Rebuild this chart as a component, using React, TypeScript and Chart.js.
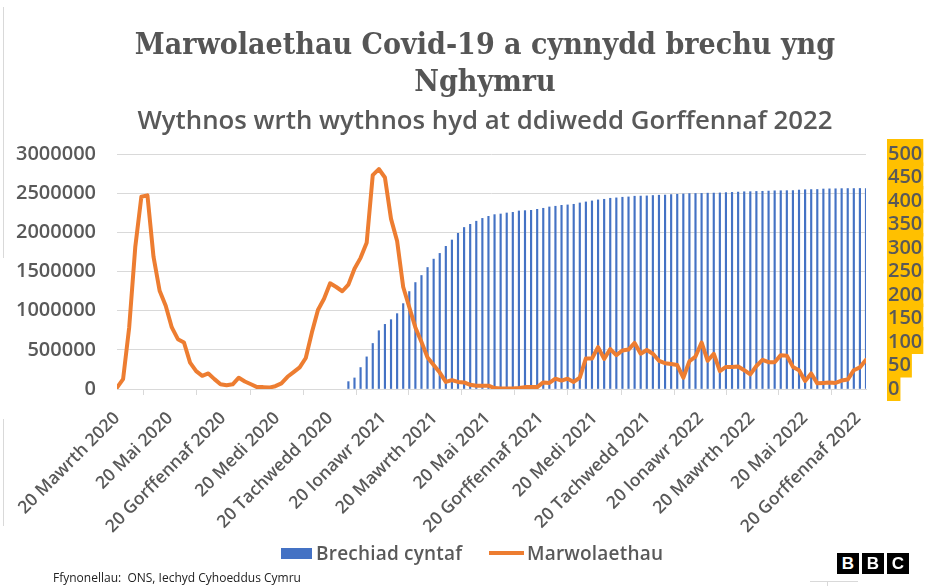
import React, { useEffect, useRef } from "react";
import { Chart, registerables } from "chart.js";

Chart.register(...registerables);

// ---------- DATA ----------
const firstWeekEnding = "2020-03-20";

// Weekly COVID-19 deaths (Wales), week ending 20 Mar 2020 → 29 Jul 2022
const deaths: number[] = [
  3, 21, 131, 302, 409, 412, 281, 209, 177, 131, 106, 99, 56, 38, 28, 33, 21, 10, 8, 10,
  24, 16, 10, 4, 4, 3, 6, 12, 26, 36, 46, 66, 120, 168, 192, 225, 217, 208, 222, 256,
  279, 311, 455, 468, 450, 362, 315, 217, 174, 131, 100, 67, 51, 35, 15, 19, 15, 14, 9, 7,
  7, 7, 2, 1, 1, 1, 2, 4, 4, 4, 14, 13, 22, 18, 22, 15, 24, 65, 65, 89,
  64, 85, 72, 82, 84, 98, 75, 83, 75, 60, 55, 53, 51, 24, 59, 69, 99, 60, 75, 38,
  47, 47, 48, 40, 31, 49, 62, 57, 57, 72, 71, 47, 40, 17, 33, 12, 13, 14, 13, 18,
  20, 40, 46, 62,
];

// Cumulative first doses, weekly from week ending 11 Dec 2020
const firstDoseStart = "2020-12-11";
const firstDoses: number[] = [
  94000, 141000, 274000, 410000, 581000, 744000, 825000, 885000, 962000, 1090000,
  1244000, 1359000, 1449000, 1551000, 1658000, 1731000, 1821000, 1902000, 1987000, 2062000,
  2102000, 2142000, 2178000, 2204000, 2226000, 2234000, 2247000, 2255000, 2273000, 2277000,
  2281000, 2294000, 2307000, 2324000, 2333000, 2345000, 2350000, 2358000, 2375000, 2388000,
  2401000, 2414000, 2422000, 2435000, 2440000, 2448000, 2452000, 2461000, 2463000, 2465000,
  2470000, 2474000, 2476000, 2482000, 2486000, 2490000, 2495000, 2496000, 2497000, 2500000,
  2501000, 2503000, 2507000, 2510000, 2514000, 2518000, 2519000, 2522000, 2524000, 2527000,
  2530000, 2531000, 2532000, 2533000, 2540000, 2544000, 2546000, 2547000, 2553000, 2555000,
  2556000, 2558000, 2559000, 2559000, 2560000, 2560000,
];

const tickDates: string[] = [
  "2020-03-20", "2020-05-20", "2020-07-20", "2020-09-20", "2020-11-20",
  "2021-01-20", "2021-03-20", "2021-05-20", "2021-07-20", "2021-09-20",
  "2021-11-20", "2022-01-20", "2022-03-20", "2022-05-20", "2022-07-20",
];
const tickLabels: string[] = [
  "20 Mawrth 2020", "20 Mai 2020", "20 Gorffennaf 2020", "20 Medi 2020", "20 Tachwedd 2020",
  "20 Ionawr 2021", "20 Mawrth 2021", "20 Mai 2021", "20 Gorffennaf 2021", "20 Medi 2021",
  "20 Tachwedd 2021", "20 Ionawr 2022", "20 Mawrth 2022", "20 Mai 2022", "20 Gorffennaf 2022",
];

const leftMax = 3000000;
const leftStep = 500000;
const rightMax = 500;
const rightStep = 50;

const seriesNames = { doses: "Brechiad cyntaf", deaths: "Marwolaethau" };
const titleLines = ["Marwolaethau Covid-19 a cynnydd brechu yng", "Nghymru"];
const subtitle = "Wythnos wrth wythnos hyd at ddiwedd Gorffennaf 2022";
const source = "Ffynonellau:  ONS, Iechyd Cyhoeddus Cymru";

// ---------- helpers ----------
const DAY = 86400000;
const weekIndex = (d: string) => (Date.parse(d) - Date.parse(firstWeekEnding)) / (7 * DAY);
const weekEnding: string[] = deaths.map((_, i) =>
  new Date(Date.parse(firstWeekEnding) + i * 7 * DAY).toISOString().slice(0, 10)
);
const doseOffset = weekIndex(firstDoseStart);
const tickValues = tickDates.map(weekIndex);

const W = 934;
const H = 586;
const GRID = "#d9d9d9";
const TXT = "#595959";
const AXIS_FONT = { family: "'Open Sans'", size: 20, weight: 600 as any };

export default function App() {
  const ref = useRef<HTMLCanvasElement | null>(null);

  useEffect(() => {
    document.body.style.margin = "0";
    const canvas = ref.current;
    if (!canvas) return;
    const chart = new Chart(canvas, {
      type: "bar",
      data: {
        labels: weekEnding,
        datasets: [
          {
            type: "line",
            label: seriesNames.deaths,
            data: deaths.map((v, i) => ({ x: i, y: v })),
            yAxisID: "y2",
            borderColor: "#ED7D31",
            backgroundColor: "#ED7D31",
            borderWidth: 4,
            pointRadius: 0,
            tension: 0,
            borderJoinStyle: "round",
            borderCapStyle: "round",
            order: 0,
          } as any,
          {
            type: "bar",
            label: seriesNames.doses,
            data: firstDoses.map((v, i) => ({ x: i + doseOffset, y: v })),
            yAxisID: "y",
            backgroundColor: "#4472C4",
            barThickness: 1.5,
            order: 1,
          } as any,
        ],
      },
      options: {
        responsive: false,
        animation: false,
        layout: { padding: { top: 154, left: 0, right: 0, bottom: 0 } },
        plugins: {
          legend: { display: false },
          title: { display: false },
          tooltip: { enabled: false },
        },
        scales: {
          x: {
            type: "linear",
            min: 0,
            max: deaths.length - 1,
            offset: false,
            afterBuildTicks: (s: any) => {
              s.ticks = tickValues.map((v) => ({ value: v }));
            },
            afterFit: (s: any) => {
              s.height = H - 389;
            },
            ticks: {
              autoSkip: false,
              minRotation: 45,
              maxRotation: 45,
              padding: 13,
              color: TXT,
              font: { family: "'Open Sans'", size: 17.5, weight: 600 },
              callback: (_v: any, i: number) => tickLabels[i],
            },
            grid: { drawOnChartArea: false, tickLength: 6, color: GRID },
            border: { color: GRID, width: 1 },
          },
          y: {
            position: "left",
            min: 0,
            max: leftMax,
            afterFit: (s: any) => {
              s.width = 117;
            },
            ticks: {
              autoSkip: false,
              stepSize: leftStep,
              padding: 21,
              color: TXT,
              font: AXIS_FONT,
              callback: (v: any) => String(v),
            },
            grid: { color: GRID, drawTicks: false },
            border: { display: false },
          },
          y2: {
            position: "right",
            min: 0,
            max: rightMax,
            afterFit: (s: any) => {
              s.width = W - 866;
            },
            ticks: {
              autoSkip: false,
              stepSize: rightStep,
              padding: 22,
              color: TXT,
              font: AXIS_FONT,
              showLabelBackdrop: true,
              backdropColor: "#FFC000",
              backdropPadding: { top: 3, bottom: 0, left: 1, right: 1 },
              callback: (v: any) => String(v),
            } as any,
            grid: { drawOnChartArea: false, drawTicks: false },
            border: { display: false },
          },
        },
      } as any,
    });
    return () => chart.destroy();
  }, []);

  const abs = (s: React.CSSProperties): React.CSSProperties => ({ position: "absolute", ...s });

  return (
    <div style={{ position: "relative", width: W, height: H, background: "#fff", overflow: "hidden" }}>
      {/* faint edge artefacts */}
      <div style={abs({ left: 3, top: 7, width: 1, height: 251, background: GRID })} />
      <div style={abs({ left: 3, top: 419, width: 1, height: 107, background: GRID })} />
      <div style={abs({ left: 810, top: 581, width: 48, height: 1, background: GRID })} />
      <div style={abs({ left: 827, top: 581, width: 1, height: 5, background: GRID })} />

      <canvas ref={ref} width={W} height={H} style={abs({ left: 0, top: 0, width: W, height: H })} />

      <div
        style={abs({
          left: 36,
          top: 26,
          width: 898,
          textAlign: "center",
          fontFamily: "'DejaVu Serif'",
          fontWeight: 700,
          fontSize: 29,
          lineHeight: "37px",
          color: "#555555",
          whiteSpace: "nowrap",
          transform: "scaleX(0.932)",
          transformOrigin: "449px 0",
        })}
      >
        <div>{titleLines[0]}</div>
        <div>{titleLines[1]}</div>
      </div>
      <div
        style={abs({
          left: 36,
          top: 103,
          width: 898,
          textAlign: "center",
          fontFamily: "'Open Sans'",
          fontWeight: 600,
          fontSize: 25.8,
          lineHeight: "33px",
          color: TXT,
          whiteSpace: "nowrap",
        })}
      >
        {subtitle}
      </div>

      {/* legend */}
      <div style={abs({ left: 281, top: 548, width: 31, height: 11, background: "#4472C4" })} />
      <div
        style={abs({
          left: 316,
          top: 540,
          fontFamily: "'Open Sans'",
          fontWeight: 600,
          fontSize: 19,
          letterSpacing: 0.2,
          lineHeight: "26px",
          color: TXT,
          whiteSpace: "nowrap",
        })}
      >
        {seriesNames.doses}
      </div>
      <div style={abs({ left: 489, top: 551, width: 35, height: 4, background: "#ED7D31" })} />
      <div
        style={abs({
          left: 527,
          top: 540,
          fontFamily: "'Open Sans'",
          fontWeight: 600,
          fontSize: 19,
          letterSpacing: 0.2,
          lineHeight: "26px",
          color: TXT,
          whiteSpace: "nowrap",
        })}
      >
        {seriesNames.deaths}
      </div>

      {/* source */}
      <div
        style={abs({
          left: 53,
          top: 570,
          fontFamily: "'Open Sans'",
          fontSize: 12,
          lineHeight: "16px",
          color: "#222",
          whiteSpace: "pre",
        })}
      >
        {source}
      </div>

      {/* BBC logo */}
      {["B", "B", "C"].map((ch, i) => (
        <div
          key={i}
          style={abs({
            left: 837 + i * 25,
            top: 553,
            width: 22,
            height: 21,
            background: "#000",
            color: "#fff",
            fontFamily: "'Liberation Sans'",
            fontWeight: 700,
            fontSize: 17,
            lineHeight: "21px",
            textAlign: "center",
          })}
        >
          {ch}
        </div>
      ))}
    </div>
  );
}
